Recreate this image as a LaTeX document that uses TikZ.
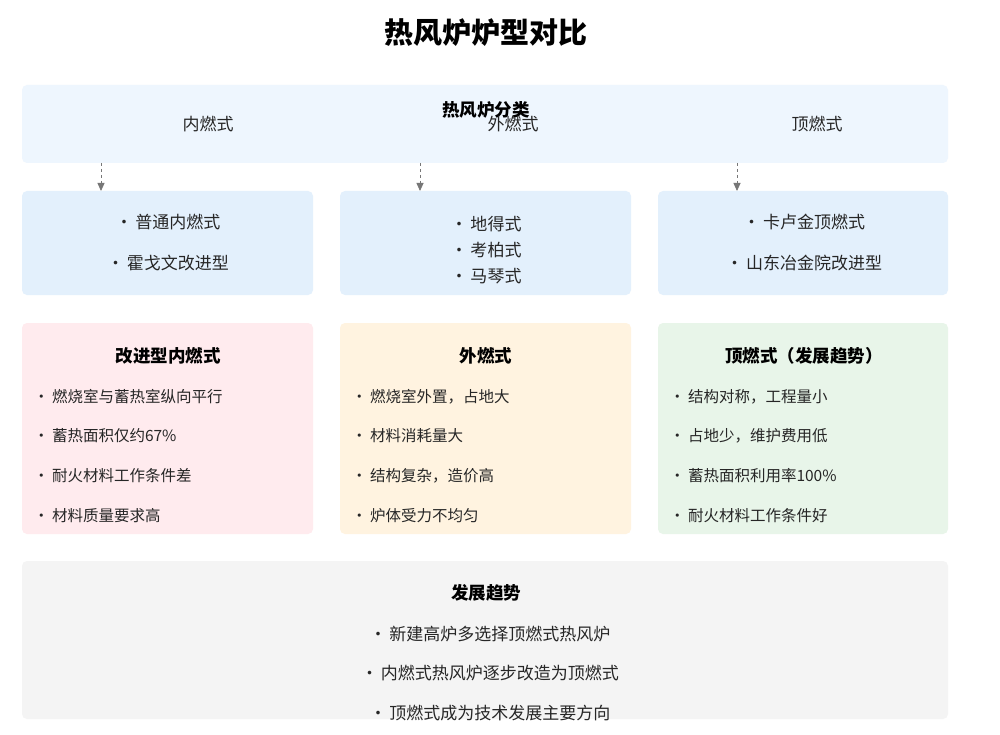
\documentclass[tikz,border=0pt]{standalone}
\usepackage{fontspec}
\setmainfont{Noto Sans CJK SC}
\usetikzlibrary{arrows.meta}
\definecolor{topbg}{HTML}{EEF6FE}
\definecolor{rowbg}{HTML}{E3F0FC}
\definecolor{pinkbg}{HTML}{FFEBEE}
\definecolor{orbg}{HTML}{FFF3E0}
\definecolor{grbg}{HTML}{E8F5E9}
\definecolor{graybg}{HTML}{F4F4F4}
\definecolor{arr}{HTML}{777777}
\newcommand{\bul}{•\hspace{3pt}}
\tikzset{
 box/.style={rounded corners=5pt, draw=none},
 txt/.style={font=\fontsize{17}{20}\selectfont, text=black!85},
 ttl/.style={font=\fontsize{17.5}{20}\selectfont\bfseries},
 itm/.style={font=\fontsize{15.5}{18}\selectfont, text=black!85, anchor=west},
 con/.style={draw=arr, dashed, thick, -{Triangle[length=8pt,width=7pt]}}
}
\begin{document}
\begin{tikzpicture}[x=1pt,y=-1pt]
\useasboundingbox (0,0) rectangle (1000,735);
\fill[white] (0,0) rectangle (1000,735);
\node[font=\fontsize{29}{33}\selectfont\bfseries] (title) at (486,33) {热风炉炉型对比};
% top
\fill[box, topbg] (22,85) rectangle (948,163);
\node[ttl] (cls) at (486,110) {热风炉分类};
\node[txt] (l1) at (208,124) {内燃式};
\node[txt] (l2) at (513,124) {外燃式};
\node[txt] (l3) at (817,124) {顶燃式};
\coordinate (a1) at (101,163); \coordinate (b1) at (101,191);
\coordinate (a2) at (420,163); \coordinate (b2) at (420,191);
\coordinate (a3) at (737,163); \coordinate (b3) at (737,191);
\draw[con] (a1) -- (b1);
\draw[con] (a2) -- (b2);
\draw[con] (a3) -- (b3);
% row 1
\fill[box, rowbg] (22,191) rectangle (313,295);
\fill[box, rowbg] (340,191) rectangle (631,295);
\fill[box, rowbg] (658,191) rectangle (948,295);
\node[txt] (r11) at (168,222) {\bul 普通内燃式};
\node[txt] (r12) at (168,263) {\bul 霍戈文改进型};
\node[txt] (r21) at (486,224) {\bul 地得式};
\node[txt] (r22) at (486,250) {\bul 考柏式};
\node[txt] (r23) at (486,276) {\bul 马琴式};
\node[txt] (r31) at (804,222) {\bul 卡卢金顶燃式};
\node[txt] (r32) at (804,263) {\bul 山东冶金院改进型};
% row 2
\fill[box, pinkbg] (22,323) rectangle (313,534);
\fill[box, orbg] (340,323) rectangle (631,534);
\fill[box, grbg] (658,323) rectangle (948,534);
\node[ttl] (t1) at (168,356) {改进型内燃式};
\node[ttl] (t2) at (486,356) {外燃式};
\node[ttl] (t3) at (804,356) {顶燃式（发展趋势）};
\node[itm] (p1) at (30,397) {\bul 燃烧室与蓄热室纵向平行};
\node[itm] (p2) at (30,436) {\bul 蓄热面积仅约67\%};
\node[itm] (p3) at (30,476) {\bul 耐火材料工作条件差};
\node[itm] (p4) at (30,516) {\bul 材料质量要求高};
\node[itm] (o1) at (348,397) {\bul 燃烧室外置，占地大};
\node[itm] (o2) at (348,436) {\bul 材料消耗量大};
\node[itm] (o3) at (348,476) {\bul 结构复杂，造价高};
\node[itm] (o4) at (348,516) {\bul 炉体受力不均匀};
\node[itm] (g1) at (666,397) {\bul 结构对称，工程量小};
\node[itm] (g2) at (666,436) {\bul 占地少，维护费用低};
\node[itm] (g3) at (666,476) {\bul 蓄热面积利用率100\%};
\node[itm] (g4) at (666,516) {\bul 耐火材料工作条件好};
% bottom
\fill[box, graybg] (22,561) rectangle (948,719);
\node[ttl] (bt) at (486,593) {发展趋势};
\node[txt] (b1t) at (490,634) {\bul 新建高炉多选择顶燃式热风炉};
\node[txt] (b2t) at (490,673) {\bul 内燃式热风炉逐步改造为顶燃式};
\node[txt] (b3t) at (490,713) {\bul 顶燃式成为技术发展主要方向};
\end{tikzpicture}
\end{document}
